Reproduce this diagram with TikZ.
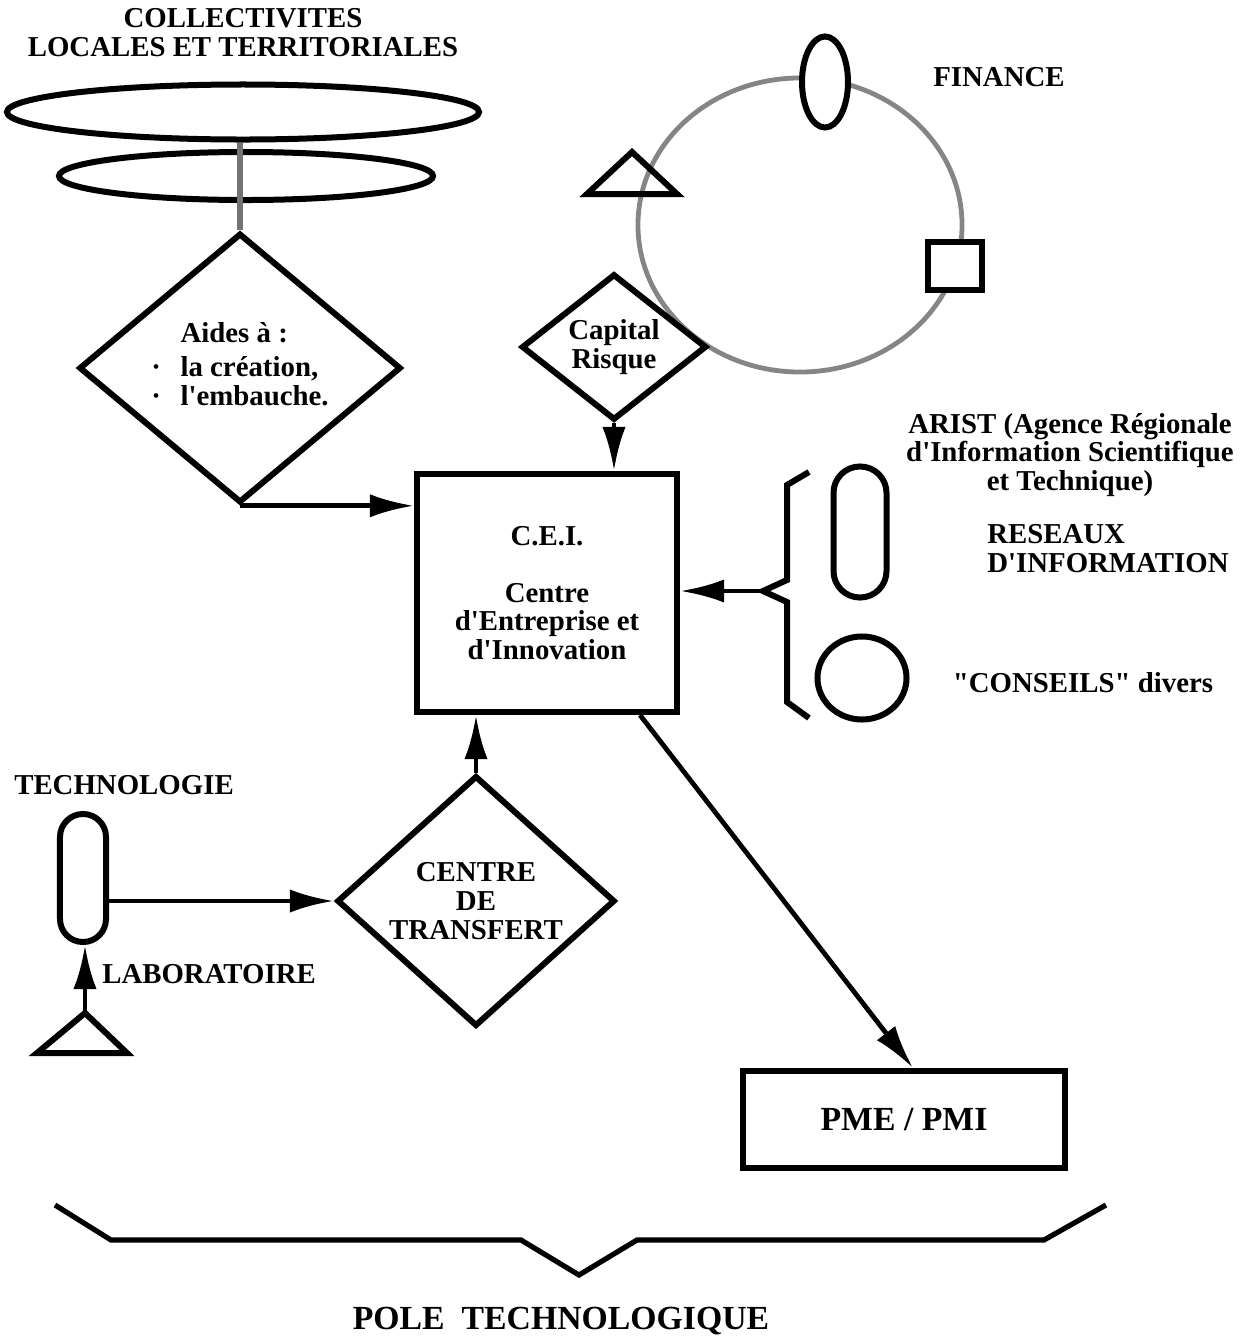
\documentclass[tikz,border=0pt]{standalone}
\usepackage{fontspec}
\setmainfont{Liberation Serif}[Ligatures=TeXOff]
\usepackage{tikz}
\usetikzlibrary{arrows.meta}
\usetikzlibrary{shapes.geometric}
\usetikzlibrary{calc}
\tikzset{>={Latex[length=1.1cm,width=0.58cm]}}
\tikzset{
  txt/.style={font=\fontsize{20.5}{20.5}\selectfont\bfseries, align=center, inner sep=0pt},
  bigtxt/.style={font=\fontsize{24}{26}\selectfont\bfseries, inner sep=0pt},
  shp/.style={draw, line width=0.15cm, fill=white, inner sep=0pt},
  conn/.style={line width=0.12cm, ->},
  losange/.style={shp, diamond, txt},
  boite/.style={shp, rectangle, txt},
  capsule/.style={shp, rectangle, rounded corners=#1},
}

\begin{document}
\begin{tikzpicture}[x=0.025cm, y=-0.025cm]
            \useasboundingbox (0,0) rectangle (1249,1337);
            \node[txt, anchor=north] (titre) at (243,8) {COLLECTIVITES\\LOCALES ET TERRITORIALES};
            \node[shp, ellipse, fill=none, minimum width=11.8cm, minimum height=1.375cm] (grand) at (243,112) {};
            \node[shp, ellipse, fill=none, minimum width=9.35cm, minimum height=1.2cm] (petit) at (246,176) {};
            \node[losange, minimum width=8.05cm, minimum height=5.975cm] (aides) at (240,368) {\begin{tabular}{@{}l@{\hspace{14pt}}l@{}}
                & Aides à :\\[4pt]
              · & la création,\\
              · & l'embauche.
            \end{tabular}};
            \draw[black!55, line width=0.15cm] (aides.north |- grand.south) -- (aides.north);
            \node[draw=black!48, line width=0.12cm, ellipse, minimum width=8.1cm, minimum height=7.35cm] (cercle) at (800,225) {};
            \node[shp, ellipse, minimum width=1.15cm, minimum height=2.275cm] (fin1) at (825,82) {};
            \node[shp, minimum width=1.35cm, minimum height=1.2cm] (fin2) at (955,266) {};
            \draw[line width=0.15cm, line cap=round] (587,194) -- (632,152) -- (677,194) -- cycle;
            \node[txt] (finance) at (999,77) {FINANCE};
            \node[losange, minimum width=4.625cm, minimum height=3.25cm] (risque) at (614,347) {Capital\\Risque};
            \node[boite, minimum width=6.5cm, minimum height=5.95cm] (cei) at (547,593) {C.E.I.\\[20pt]Centre\\d'Entreprise et\\d'Innovation};
            \draw[conn] (aides.south) -- (aides.south -| cei.west);
            \draw[conn] (risque.south) -- (risque.south |- cei.north);
            \node[capsule=0.66cm, minimum width=1.325cm, minimum height=3.275cm] (arist) at (860,532) {};
            \node[shp, ellipse, minimum width=2.225cm, minimum height=2.075cm] (conseils) at (862,678) {};
            \draw[line width=0.15cm] (809,472) -- (787,485) -- (787,580) -- (763,591) coordinate (pointe) -- (787,602) -- (787,702) -- (809,718);
            \draw[conn] (pointe) -- (pointe -| cei.east);
            \node[txt] (arist-txt) at (1070,455) {ARIST (Agence Régionale\\d'Information Scientifique\\et Technique)};
            \node[txt, align=left, anchor=west] (reseaux) at (987,549) {RESEAUX\\D'INFORMATION};
            \node[txt] (conseils-txt) at (1083,683) {"CONSEILS" divers};
            \node[txt] (techno) at (124,785) {TECHNOLOGIE};
            \node[capsule=0.575cm, minimum width=1.15cm, minimum height=3.2cm] (tech) at (83,878) {};
            \node[losange, minimum width=6.95cm, minimum height=5.425cm] (transfert) at (476,901) {CENTRE\\DE\\TRANSFERT};
            \draw[line width=0.15cm, line cap=round] (37,1053) -- (85,1013) coordinate (labo) -- (127,1053) -- cycle;
            \node[txt, anchor=west] (laboratoire) at (102,974) {LABORATOIRE};
            \draw[conn] (tech.east |- transfert.west) -- (transfert.west);
            \draw[conn] (labo) -- (labo |- tech.south);
            \draw[conn] (transfert.north) -- (transfert.north |- cei.south);
            \node[boite, bigtxt, minimum width=8.05cm, minimum height=2.425cm] (pme) at (904,1119.5) {PME / PMI};
            \draw[conn] ([xshift=2.325cm]cei.south) -- ([xshift=0.225cm]pme.north);
            \draw[line width=0.13cm] (55,1205) -- (111,1240) -- (521,1240) -- (579,1275) -- (637,1240) -- (1044,1240) -- (1106,1205);
            \node[bigtxt] (pole) at (561,1321) {POLE\ \ TECHNOLOGIQUE};
        \end{tikzpicture}
\end{document}
